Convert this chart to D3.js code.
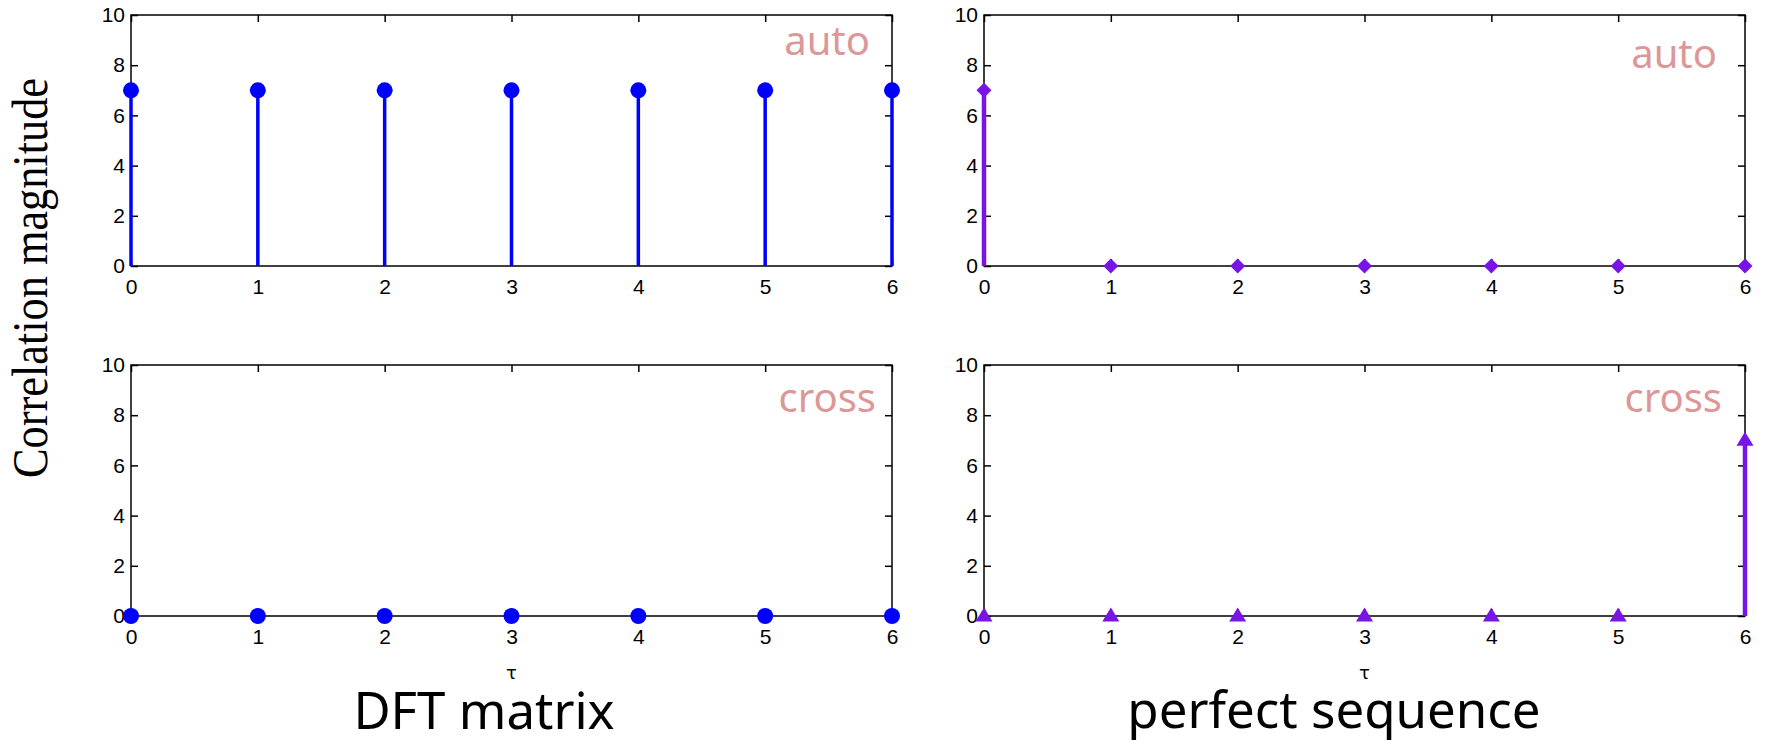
<html>
<head>
<script src="https://d3js.org/d3.v7.min.js"></script>
<style>
body { margin: 0; background: white; }
.tick text { font-family: "Liberation Sans", Arial, sans-serif; font-size: 21px; fill: black; }
.tick line { stroke: black; stroke-width: 1.5; }
.domain { display: none; }
.tag { font-family: "Noto Sans", "Open Sans", sans-serif; font-size: 40px; fill: #dc9898; }
.title { font-family: "Noto Sans", "Open Sans", sans-serif; font-size: 51px; fill: black; }
</style>
</head>
<body>
<svg width="1765" height="745"></svg>
<script>
// lags and correlation magnitudes
var lags = [0, 1, 2, 3, 4, 5, 6];
var dftAuto = [7, 7, 7, 7, 7, 7, 7];
var dftCross = [0, 0, 0, 0, 0, 0, 0];
var perfAuto = [7, 0, 0, 0, 0, 0, 0];
var perfCross = [0, 0, 0, 0, 0, 0, 7];
var yTicks = [0, 2, 4, 6, 8, 10];
var colTitles = ["DFT matrix", "perfect sequence"];

var blue = "#0000ff";
var purple = "#7814e6";

var svg = d3.select("svg");

var colX = [131, 984];
var rowY = [15, 365];
var pw = 761, ph = 251;

function panel(col, row, values, marker, color, stemW, tag, tagX, tagY) {
  var g = svg.append("g").attr("transform", "translate(" + colX[col] + "," + rowY[row] + ")");
  var x = d3.scaleLinear().domain([0, 6]).range([0, pw]);
  var y = d3.scaleLinear().domain([0, 10]).range([ph, 0]);

  g.append("g").attr("transform", "translate(0," + ph + ")")
    .call(d3.axisBottom(x).tickValues(lags).tickFormat(d3.format("d")).tickSize(-7).tickPadding(13));
  g.append("g")
    .call(d3.axisLeft(y).tickValues(yTicks).tickFormat(d3.format("d")).tickSize(-7).tickPadding(6));
  g.append("g")
    .call(d3.axisTop(x).tickValues(lags).tickSize(-7).tickFormat(""));
  g.append("g").attr("transform", "translate(" + pw + ",0)")
    .call(d3.axisRight(y).tickValues(yTicks).tickSize(-7).tickFormat(""));

  g.append("rect").attr("width", pw).attr("height", ph)
    .attr("fill", "none").attr("stroke", "black").attr("stroke-width", 1.5);

  g.append("text").attr("class", "tag").attr("text-anchor", "end")
    .attr("x", tagX).attr("y", tagY).text(tag);

  g.selectAll(".stem").data(values).enter().append("line")
    .attr("x1", function(d, i) { return x(lags[i]); })
    .attr("x2", function(d, i) { return x(lags[i]); })
    .attr("y1", y(0))
    .attr("y2", function(d) { return y(d); })
    .attr("stroke", color).attr("stroke-width", stemW);

  var m = g.selectAll(".mk").data(values).enter();
  if (marker == "circle") {
    m.append("circle")
      .attr("cx", function(d, i) { return x(lags[i]); })
      .attr("cy", function(d) { return y(d); })
      .attr("r", 8).attr("fill", color);
  } else if (marker == "diamond") {
    m.append("path")
      .attr("d", "M0,-7.5L7.5,0L0,7.5L-7.5,0Z")
      .attr("transform", function(d, i) { return "translate(" + x(lags[i]) + "," + y(d) + ")"; })
      .attr("fill", color);
  } else {
    m.append("path")
      .attr("d", "M0,-8.5L8.5,5.5L-8.5,5.5Z")
      .attr("transform", function(d, i) { return "translate(" + x(lags[i]) + "," + y(d) + ")"; })
      .attr("fill", color);
  }

  if (row == 1) {
    g.append("text").attr("x", x(3)).attr("y", ph + 63)
      .attr("text-anchor", "middle")
      .style("font-family", "'DejaVu Sans', sans-serif").style("font-size", "18px")
      .text("τ");
  }
}

panel(0, 0, dftAuto, "circle", blue, 3.5, "auto", 870 - 131, 55 - 15);
panel(0, 1, dftCross, "circle", blue, 3.5, "cross", 876 - 131, 412 - 365);
panel(1, 0, perfAuto, "diamond", purple, 4.5, "auto", 1717 - 984, 68 - 15);
panel(1, 1, perfCross, "triangle", purple, 4.5, "cross", 1722 - 984, 412 - 365);

svg.append("text").attr("class", "title").attr("x", 484).attr("y", 729)
  .attr("text-anchor", "middle").text(colTitles[0]);
svg.append("text").attr("class", "title").attr("x", 1334).attr("y", 728)
  .attr("text-anchor", "middle").text(colTitles[1]);

svg.append("text")
  .attr("transform", "translate(47,278) rotate(-90)")
  .attr("text-anchor", "middle")
  .attr("textLength", 400).attr("lengthAdjust", "spacingAndGlyphs")
  .style("font-family", "'Liberation Serif', serif").style("font-size", "50px")
  .text("Correlation magnitude");
</script>
</body>
</html>
